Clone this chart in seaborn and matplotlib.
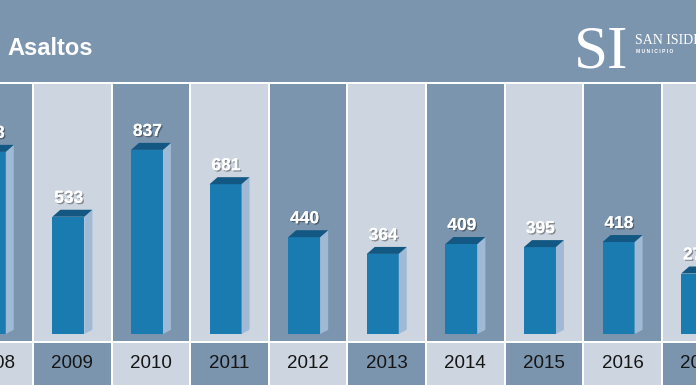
import matplotlib
matplotlib.use("Agg")
import matplotlib.pyplot as plt
import matplotlib.patheffects as pe
from matplotlib.patches import Polygon, Rectangle
import seaborn as sns
import pandas as pd

# datos
years = [2008, 2009, 2010, 2011, 2012, 2013, 2014, 2015, 2016, 2017]
asaltos = [828, 533, 837, 681, 440, 364, 409, 395, 418, 275]
title = "Asaltos"

DARK = "#7c95af"
LIGHT = "#cdd6e0"
FRONT = "#1a7bb0"
TOP = "#135883"
SIDE = "#a0bad6"

sns.set_theme(style="white")
plt.rcParams["font.family"] = ["Liberation Sans", "DejaVu Sans"]

W, H = 696, 385
PITCH = 78.6      # px per columna
PX = 0.22         # px per unidad
BASE = 334        # px de la base de las barras
X0 = 2008.5 - 33 / PITCH


def xv(p):
    return X0 + p / PITCH


def yv(p):
    return (BASE - p) / PX


fig = plt.figure(figsize=(W / 100, H / 100), dpi=100, facecolor="white")
ax = fig.add_axes([0, 0, 1, 1])
ax.set_facecolor("white")

# cabecera
ax.add_patch(Rectangle((xv(-5), yv(82)), xv(W + 5) - xv(-5), yv(0) - yv(82) + 50,
                       color=DARK, lw=0, zorder=0))

# columnas y fila de etiquetas
gap = 1 / PITCH
for i, yr in enumerate(years):
    col = DARK if i % 2 == 0 else LIGHT
    lab = LIGHT if i % 2 == 0 else DARK
    ax.add_patch(Rectangle((yr - 0.5 + gap, yv(341)), 1 - 2 * gap, yv(84) - yv(341),
                           color=col, lw=0, zorder=0))
    ax.add_patch(Rectangle((yr - 0.5 + gap, yv(H + 5)), 1 - 2 * gap, yv(343) - yv(H + 5),
                           color=lab, lw=0, zorder=0))
    ax.text(yr, yv(363), str(yr), ha="center", va="center", fontsize=13.5,
            color="#151515", zorder=5)

# barras (cara frontal)
df = pd.DataFrame({"pos": [y - 0.05 for y in years], "valor": asaltos})
bw = 32 / PITCH
sns.barplot(data=df, x="pos", y="valor", native_scale=True, width=bw,
            color=FRONT, saturation=1, errorbar=None, ax=ax, zorder=3,
            linewidth=0)

# caras superior y lateral
dx = 8 / PITCH
dy = 7 / PX
shadow = [pe.withSimplePatchShadow(offset=(1, -1), shadow_rgbFace="black", alpha=0.35),
          pe.Normal()]
for pos, v in zip(df["pos"], df["valor"]):
    xl, xr = pos - bw / 2, pos + bw / 2
    ax.add_patch(Polygon([(xr, 0), (xr + dx, dy * 0.6), (xr + dx, v + dy), (xr, v)],
                         closed=True, color=SIDE, lw=0, zorder=3))
    ax.add_patch(Polygon([(xl, v), (xr, v), (xr + dx, v + dy), (xl + dx, v + dy)],
                         closed=True, color=TOP, lw=0, zorder=3))
    ax.text(pos + 0.005, v + dy + 7 / PX, str(v), ha="center", va="baseline",
            fontsize=12.5, fontweight="bold", color="white", zorder=5,
            path_effects=shadow)

# titulo
ax.text(xv(7), yv(55), title, ha="left", va="baseline", fontsize=17,
        fontweight="bold", color="white", zorder=5)

# logo
fig.text(574 / W, 1 - 67 / H, "SI", fontsize=44, color="white",
         family=["Liberation Serif", "DejaVu Serif"], ha="left", va="baseline")
fig.text(635 / W, 1 - 44 / H, "SAN ISIDRO", fontsize=10, color="white",
         family=["Liberation Serif", "DejaVu Serif"], ha="left", va="baseline")
fig.text(636 / W, 1 - 53 / H, "M U N I C I P I O", fontsize=3.6, color="white",
         fontweight="bold", ha="left", va="baseline")

ax.set_xlim(X0, xv(W))
ax.set_ylim(yv(H), yv(0))
ax.axis("off")

fig.savefig("out.png", dpi=100, facecolor="white")
